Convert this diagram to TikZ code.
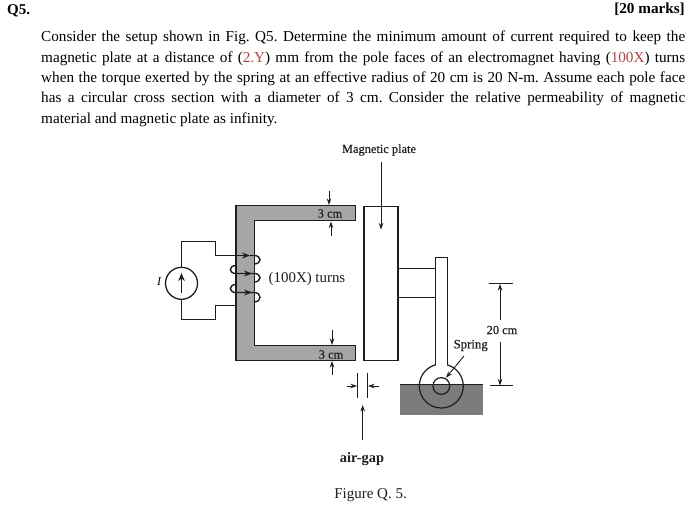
\documentclass[tikz,border=0pt]{standalone}
\usepackage{fontspec}
\setmainfont{Liberation Serif}
\newfontfamily\semifont[FakeBold=0.35]{Liberation Serif}
\usetikzlibrary{arrows.meta}
\definecolor{ink}{HTML}{1E1E1E}
\definecolor{redtxt}{HTML}{B2474A}
\definecolor{coregray}{HTML}{A6A6A6}
\definecolor{groundgray}{HTML}{7C7C7C}
\tikzset{
  x=1pt,y=-1pt,
  wire/.style={draw=ink,line width=1.4pt,line join=miter},
  outline/.style={draw=ink,line width=1.2pt,line join=miter},
  thin wire/.style={draw=ink,line width=1pt},
  dim/.style={draw=ink,line width=0.9pt,-{Stealth[length=6.5pt,width=4.5pt]}},
  coilarrow/.style={draw=ink,line width=1.3pt,-{Stealth[length=8pt,width=6pt]}},
  coilwire/.style={draw=ink,line width=1.4pt},
  body/.style={anchor=base west,inner sep=0pt,text=black,font=\fontsize{15.2}{17}\selectfont},
  fig/.style={inner sep=0pt,text=ink},
}
\newcommand{\lineto}[1]{\makebox[644pt][s]{#1}}
\newcommand{\rd}[1]{\textcolor{redtxt}{#1}}
\frenchspacing
\begin{document}
\begin{tikzpicture}
\useasboundingbox (0,0) rectangle (700,517);
\fill[white] (0,0) rectangle (700,517);
% header
\node[inner sep=0pt,anchor=base west,font=\fontsize{15}{17}\selectfont\bfseries] (qn) at (7,14) {Q5.};
\node[inner sep=0pt,anchor=base east,font=\fontsize{15.2}{17}\selectfont\bfseries] (marks) at (685,13) {[20 marks]};
\node[body] (l1) at (41,41.5) {\lineto{Consider the setup shown in Fig. Q5. Determine the minimum amount of current required to keep the}};
\node[body] (l2) at (41,62) {\lineto{magnetic plate at a distance of (\rd{2.Y}) mm from the pole faces of an electromagnet having (\rd{100X}) turns}};
\node[body] (l3) at (41,82.5) {\lineto{when the torque exerted by the spring at an effective radius of 20 cm is 20 N-m. Assume each pole face}};
\node[body] (l4) at (41,102.5) {\lineto{has a circular cross section with a diameter of 3 cm. Consider the relative permeability of magnetic}};
\node[body] (l5) at (41,123) {material and magnetic plate as infinity.};
% core
\draw[outline,fill=coregray] (236,205.5) -- (355.5,205.5) -- (355.5,220.5) -- (254.5,220.5) -- (254.5,345.5) -- (355.5,345.5) -- (355.5,360.5) -- (236,360.5) -- cycle;
\node[fig,font=\fontsize{12.5}{14}\semifont] (t3a) at (330,213.5) {3 cm};
\node[fig,font=\fontsize{12.5}{14}\semifont] (t3b) at (331,354.5) {3 cm};
\coordinate (t3at) at (329,191); \coordinate (t3ab) at (329,205);
\coordinate (t3ct) at (331,236); \coordinate (t3cb) at (331,221.5);
\coordinate (t3dt) at (332,330); \coordinate (t3db) at (332,345);
\coordinate (t3et) at (332,375); \coordinate (t3eb) at (332,361);
\draw[dim] (t3at) -- (t3ab);
\draw[dim] (t3ct) -- (t3cb);
\draw[dim] (t3dt) -- (t3db);
\draw[dim] (t3et) -- (t3eb);
% source
\node[circle,draw=ink,line width=1.3pt,minimum size=32pt,inner sep=0pt] (src) at (181.5,283.3) {};
\coordinate (srcb) at (181.5,293);
\coordinate (srct) at (181.5,273);
\draw[draw=ink,line width=1.6pt,-{Stealth[length=8pt,width=6.5pt]}] (srcb) -- (srct);
\node[inner sep=0pt,font=\fontsize{12}{14}\selectfont\itshape] (ilab) at (159,282) {I};
\coordinate (c6) at (236,305.5);
\draw[wire] (src.north) -- (181.5,241.5) -- (215.5,241.5) -- (215.5,255.5) -- (236,255.5);
\draw[wire] (src.south) -- (181.5,319.5) -- (215.5,319.5) -- (215.5,305.5) -- (c6);
% coil
\draw[coilarrow] (236,255.5) -- (250,255.5);
\draw[coilwire] (250,255.5) -- (254,255.5) .. controls (262,255.5) and (262,264) .. (254,264);
\draw[coilwire] (236,265.5) .. controls (228.5,265.5) and (228.5,273.5) .. (236,273.5) -- (254,273.5) .. controls (262,273.5) and (262,282) .. (254,282);
\draw[coilarrow] (236,273.5) -- (252,273.5);
\draw[coilwire] (236,284.5) .. controls (228.5,284.5) and (228.5,292.5) .. (236,292.5) -- (254,292.5) .. controls (262,292.5) and (262,302) .. (254,302);
\draw[coilarrow] (236,292.5) -- (252,292.5);
\node[fig,font=\fontsize{14.9}{17}\selectfont] (turns) at (307,278.5) {(100X) turns};
% plate
\node[draw=ink,line width=1.1pt,fill=white,minimum width=34pt,minimum height=154.5pt,inner sep=0pt] (plate) at (381,283.3) {};
\node[fig,font=\fontsize{12.4}{14}\semifont] (mplab) at (379,150) {Magnetic plate};
\coordinate (mpa) at (381,162);
\coordinate (mpb) at (381,229.5);
\draw[dim] (mpa) -- (mpb);
% links and arm
\draw[thin wire] (398,268) -- (435,268);
\draw[thin wire] (398,297.5) -- (435,297.5);
% ground and pivot
\fill[groundgray] (400,384) rectangle (483.3,415);
\draw[draw=ink,line width=1pt] (400,384) -- (483.3,384);
\draw[outline] (441.3,386) circle[radius=22pt];
\draw[outline] (441.3,386) circle[radius=8.4pt];
\fill[white] (435.9,360) rectangle (447.1,366);
\draw[outline] (435.5,365) -- (435.5,257.5) -- (447.5,257.5) -- (447.5,365);
% spring
\node[fig,font=\fontsize{12.8}{15}\semifont] (spr) at (470.7,345.5) {Spring};
\coordinate (spa) at (464,356);
\coordinate (spb) at (446,377.7);
\draw[dim] (spa) -- (spb);
% 20 cm dimension
\coordinate (dl1) at (489,283.7); \coordinate (dr1) at (512.7,283.7);
\coordinate (dl2) at (490,385.7); \coordinate (dr2) at (513,385.7);
\draw[thin wire] (dl1) -- (dr1);
\draw[thin wire] (dl2) -- (dr2);
\node[fig,font=\fontsize{12.4}{14}\semifont] (d20) at (502,330) {20 cm};
\coordinate (da) at (500,320); \coordinate (dat) at (500,284);
\coordinate (db) at (500,341.7); \coordinate (dbt) at (500,385.5);
\draw[dim] (da) -- (dat);
\draw[dim] (db) -- (dbt);
% air gap
\coordinate (g1t) at (357.3,373); \coordinate (g1b) at (357.3,398);
\coordinate (g2t) at (367.7,373); \coordinate (g2b) at (367.7,398);
\draw[thin wire] (g1t) -- (g1b);
\draw[thin wire] (g2t) -- (g2b);
\coordinate (ga1) at (346.7,386); \coordinate (ga1e) at (357,386);
\coordinate (ga2) at (379,386); \coordinate (ga2e) at (368,386);
\draw[dim] (ga1) -- (ga1e);
\draw[dim] (ga2) -- (ga2e);
\node[fig,font=\fontsize{14.4}{16}\selectfont\bfseries] (aglab) at (362,459) {air-gap};
\coordinate (gua) at (362.7,440); \coordinate (gub) at (362.7,405);
\draw[dim] (gua) -- (gub);
\node[fig,font=\fontsize{15}{17}\selectfont] (figc) at (370.5,495) {Figure Q. 5.};
\end{tikzpicture}
\end{document}
